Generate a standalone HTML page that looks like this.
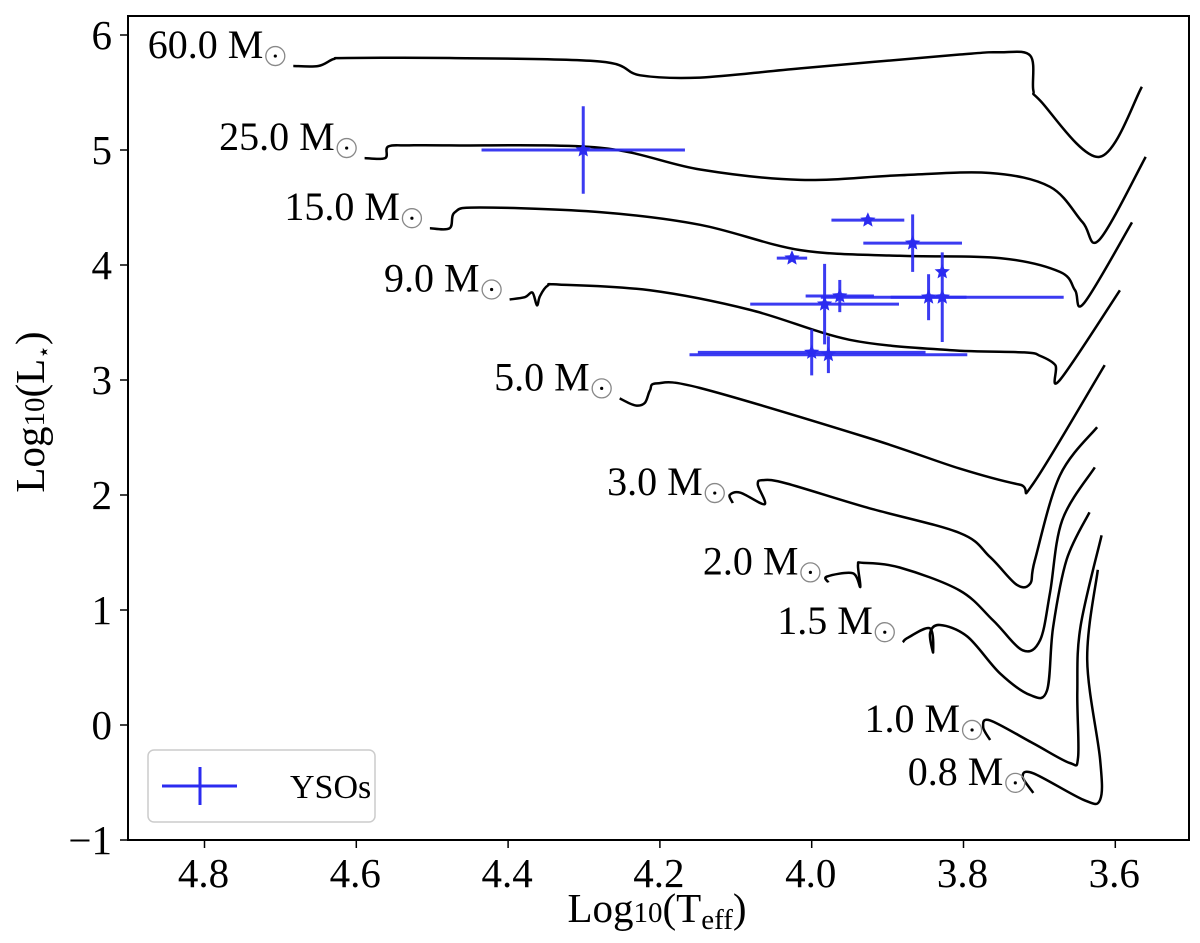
<!DOCTYPE html>
<html><head><meta charset="utf-8">
<style>
html,body{margin:0;padding:0;background:#fff;}
svg{display:block;font-family:"Liberation Serif","DejaVu Serif",serif;}
</style></head>
<body>
<svg id="chart" width="1200" height="943" viewBox="0 0 1200 943" xmlns="http://www.w3.org/2000/svg">
  <rect x="0" y="0" width="1200" height="943" fill="#fff"/>
  <g id="tracks"></g>
  <g id="labels"></g>
  <g id="ysos"></g>
  <rect x="128" y="16" width="1061" height="824" fill="none" stroke="#000" stroke-width="2"/>
  <g id="xticks"></g>
  <g id="yticks"></g>
  <text x="657" y="922" font-size="41" text-anchor="middle">Log<tspan font-size="29">10</tspan>(T<tspan font-size="29" dy="7">eff</tspan><tspan dy="-7">)</tspan></text>
  <text transform="translate(44,412) rotate(-90)" font-size="41" text-anchor="middle">Log<tspan font-size="29">10</tspan>(L<tspan font-size="22" dy="7">⋆</tspan><tspan dy="-7">)</tspan></text>
  <g>
    <rect x="148" y="750" width="227" height="72" rx="6" fill="#fff" stroke="#ccc" stroke-width="1.5"/>
    <line x1="162" y1="786" x2="237" y2="786" stroke="#2b2bf0" stroke-width="3"/>
    <line x1="200" y1="767" x2="200" y2="805" stroke="#2b2bf0" stroke-width="3"/>
    <text x="290" y="798" font-size="34">YSOs</text>
  </g>
</svg>
<script>
const xTicks = [4.8, 4.6, 4.4, 4.2, 4.0, 3.8, 3.6];
const xTickLabels = ["4.8", "4.6", "4.4", "4.2", "4.0", "3.8", "3.6"];
const yTicks = [-1, 0, 1, 2, 3, 4, 5, 6];
const yTickLabels = ["\u22121", "0", "1", "2", "3", "4", "5", "6"];
const trackNames = ["60.0", "25.0", "15.0", "9.0", "5.0", "3.0", "2.0", "1.5", "1.0", "0.8"];
const track60 = [[4.683,5.73],[4.650,5.73],[4.630,5.79],[4.612,5.80],[4.477,5.80],[4.279,5.77],[4.226,5.65],[4.147,5.63],[4.015,5.71],[3.805,5.83],[3.752,5.85],[3.712,5.82],[3.708,5.52],[3.699,5.43],[3.621,4.94],[3.565,5.55]];
const track25 = [[4.589,4.93],[4.562,4.93],[4.558,5.03],[4.530,5.04],[4.477,5.04],[4.279,5.02],[4.147,4.83],[4.015,4.74],[3.884,4.78],[3.765,4.80],[3.686,4.68],[3.643,4.37],[3.621,4.22],[3.560,4.94]];
const track15 = [[4.503,4.32],[4.477,4.32],[4.470,4.46],[4.437,4.50],[4.279,4.46],[4.147,4.35],[4.015,4.13],[3.884,4.08],[3.752,4.06],[3.673,3.94],[3.653,3.78],[3.641,3.67],[3.578,4.37]];
const track9 = [[4.398,3.70],[4.378,3.72],[4.368,3.76],[4.362,3.65],[4.358,3.73],[4.348,3.82],[4.332,3.83],[4.213,3.78],[4.081,3.61],[3.950,3.35],[3.818,3.26],[3.720,3.24],[3.699,3.21],[3.679,3.13],[3.673,3.00],[3.594,3.78]];
const track5 = [[4.253,2.84],[4.233,2.78],[4.220,2.80],[4.213,2.91],[4.204,2.97],[4.147,2.93],[3.927,2.50],[3.805,2.23],[3.726,2.09],[3.708,2.10],[3.614,3.13]];
const track3 = [[4.104,1.93],[4.108,2.00],[4.094,2.02],[4.062,1.92],[4.071,2.09],[4.064,2.13],[4.033,2.10],[3.927,1.89],[3.805,1.67],[3.765,1.46],[3.730,1.22],[3.712,1.23],[3.706,1.43],[3.673,2.17],[3.624,2.59]];
const track2 = [[3.978,1.24],[3.980,1.29],[3.946,1.32],[3.936,1.20],[3.939,1.39],[3.932,1.41],[3.884,1.37],[3.805,1.17],[3.761,0.91],[3.722,0.65],[3.699,0.74],[3.686,1.15],[3.670,1.78],[3.627,2.24]];
const track15s = [[3.880,0.72],[3.873,0.76],[3.844,0.84],[3.840,0.63],[3.844,0.80],[3.831,0.87],[3.795,0.77],[3.752,0.45],[3.712,0.26],[3.690,0.30],[3.682,0.85],[3.664,1.44],[3.634,1.85]];
const track1 = [[3.765,-0.13],[3.774,-0.02],[3.765,0.04],[3.708,-0.16],[3.660,-0.33],[3.649,-0.28],[3.650,0.28],[3.646,0.85],[3.618,1.65]];
const track08 = [[3.708,-0.59],[3.722,-0.45],[3.708,-0.42],[3.642,-0.65],[3.620,-0.65],[3.620,-0.30],[3.637,0.57],[3.623,1.35]];
const tracks = [track60, track25, track15, track9, track5, track3, track2, track15s, track1, track08];
const ysoTeff = [4.301, 3.926, 3.867, 4.026, 3.828, 3.828, 3.846, 3.963, 3.983, 4.000, 3.978];
const ysoLum  = [5.00, 4.39, 4.19, 4.06, 3.94, 3.72, 3.72, 3.73, 3.66, 3.24, 3.22];
const ysoTeffErr = [0.134, 0.048, 0.065, 0.020, 0.0, 0.160, 0.050, 0.045, 0.098, 0.150, 0.183];
const ysoLumErr  = [0.38, 0.0, 0.25, 0.0, 0.0, 0.39, 0.20, 0.14, 0.35, 0.20, 0.16];

const NS = "http://www.w3.org/2000/svg";
const X = v => 204.5 + (4.8 - v) * 759;
const Y = v => 725 - 115 * v;
function mk(tag, attrs, parent){ const e = document.createElementNS(NS, tag); for (const k in attrs) e.setAttribute(k, attrs[k]); parent.appendChild(e); return e; }

const gT = document.getElementById('tracks');
tracks.forEach((tr, i) => {
  const pts = tr.map(p => [X(p[0]), Y(p[1])]);
  let d = "M" + pts[0][0].toFixed(1) + "," + pts[0][1].toFixed(1);
  for (let j = 0; j < pts.length - 1; j++) {
    const p0 = pts[Math.max(j-1,0)], p1 = pts[j], p2 = pts[j+1], p3 = pts[Math.min(j+2, pts.length-1)];
    const c1 = [p1[0] + (p2[0]-p0[0])/6, p1[1] + (p2[1]-p0[1])/6];
    const c2 = [p2[0] - (p3[0]-p1[0])/6, p2[1] - (p3[1]-p1[1])/6];
    d += " C" + c1.map(v=>v.toFixed(1)).join(",") + " " + c2.map(v=>v.toFixed(1)).join(",") + " " + p2.map(v=>v.toFixed(1)).join(",");
  }
  const p = mk('path', {d: d, fill: 'none', stroke: '#000', 'stroke-width': 2.5, 'stroke-linejoin': 'round'}, gT);
  
  
});

const gL = document.getElementById('labels');
tracks.forEach((tr, i) => {
  const t = mk('text', {x: X(tr[0][0]) - 30, y: Y(tr[0][1]) - 8, 'font-size': 40, 'text-anchor': 'end'}, gL);
  t.textContent = trackNames[i] + " M";
  
  
  const c = mk('circle', {cx: X(tr[0][0]) - 18, cy: Y(tr[0][1]) - 10, r: 9.5, fill: 'none', stroke: '#888', 'stroke-width': 1.3}, gL);
  
  
  const dot = mk('circle', {cx: X(tr[0][0]) - 18, cy: Y(tr[0][1]) - 10, r: 1.6, fill: '#000'}, gL);
  
  
});

const gY = document.getElementById('ysos');
function starPath(cx, cy, r){
  let d = "";
  for (let k = 0; k < 10; k++){
    const a = -Math.PI/2 + k*Math.PI/5, rr = k%2 ? r*0.45 : r;
    d += (k ? "L" : "M") + (cx + rr*Math.cos(a)).toFixed(1) + "," + (cy + rr*Math.sin(a)).toFixed(1);
  }
  return d + "Z";
}
ysoTeff.forEach((t, i) => {
  const g = mk('g', {}, gY);
  
  
  const cx = X(t), cy = Y(ysoLum[i]);
  if (ysoTeffErr[i] > 0) {
    const l = mk('line', {x1: X(t + ysoTeffErr[i]), x2: X(t - ysoTeffErr[i]), y1: cy, y2: cy, stroke: '#2b2bf0', 'stroke-width': 3, opacity: 0.92}, g);
    
    
  }
  if (ysoLumErr[i] > 0) {
    const l = mk('line', {x1: cx, x2: cx, y1: Y(ysoLum[i] + ysoLumErr[i]), y2: Y(ysoLum[i] - ysoLumErr[i]), stroke: '#2b2bf0', 'stroke-width': 3, opacity: 0.92}, g);
    
    
  }
  const s = mk('path', {d: starPath(cx, cy, 8), fill: '#2b2bf0'}, g);
  
  
});

const gx = document.getElementById('xticks');
xTicks.forEach((v, i) => {
  const l = mk('line', {x1: X(v), x2: X(v), y1: 840, y2: 848, stroke: '#000', 'stroke-width': 1.5}, gx);
  
  
  const t = mk('text', {x: X(v) - 1, y: 887, 'font-size': 41, 'text-anchor': 'middle'}, gx);
  t.textContent = xTickLabels[i];
  
  
});
const gy = document.getElementById('yticks');
yTicks.forEach((v, i) => {
  const l = mk('line', {x1: 120, x2: 128, y1: Y(v), y2: Y(v), stroke: '#000', 'stroke-width': 1.5}, gy);
  
  
  const t = mk('text', {x: 112, y: Y(v) + 14, 'font-size': 41, 'text-anchor': 'end'}, gy);
  t.textContent = yTickLabels[i];
  
  
});
</script>
</body></html>
